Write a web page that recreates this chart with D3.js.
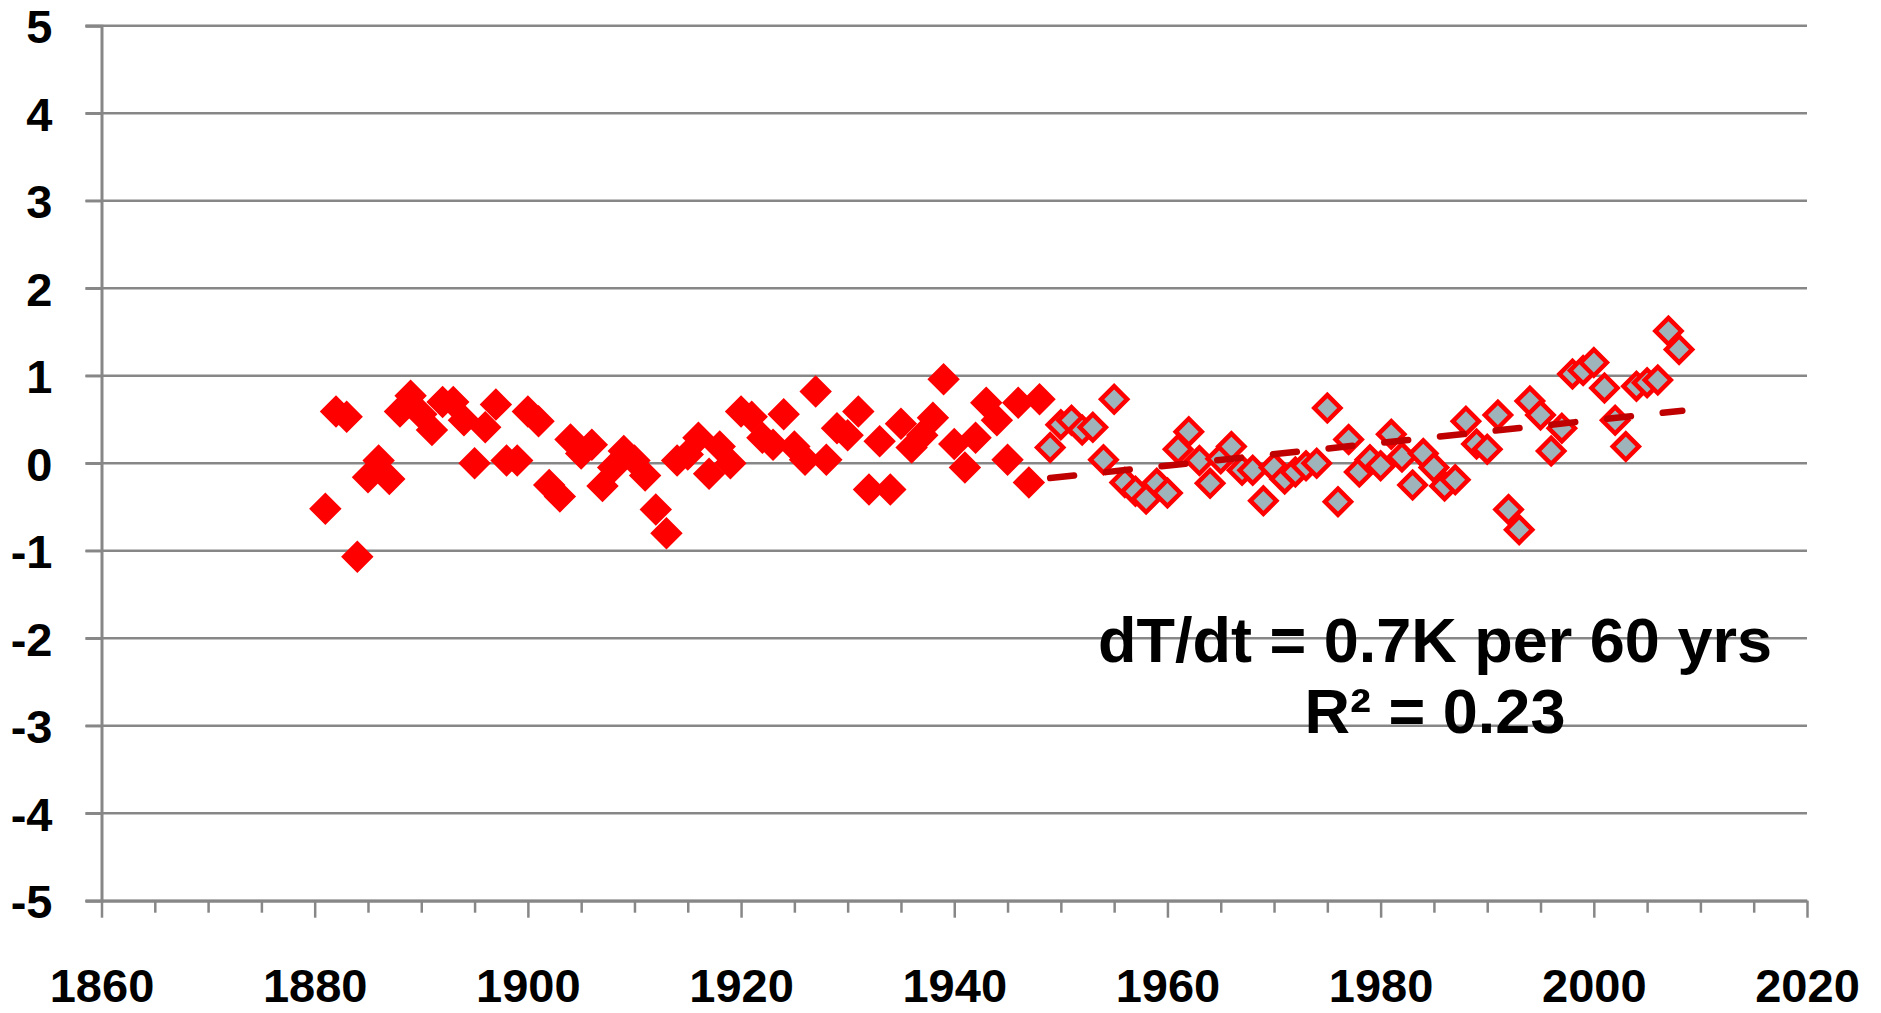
<!DOCTYPE html>
<html>
<head>
<meta charset="utf-8">
<script src="https://cdn.jsdelivr.net/npm/d3@7"></script>
<style>
	body { margin: 0; background: #fff; }
	text { font-family: "Liberation Sans", Arial, sans-serif; font-weight: bold; fill: #000; }
</style>
</head>
<body>
<div id="chart"></div>
<script>

// Early record (red diamonds), 1881-1948
let earlyYears = d3.range(1881, 1949);
let earlyValues = [
	-0.52, 0.59, 0.53, -1.07, -0.16, 0.03, -0.18, 0.59, 0.77, 0.56,
	0.38, 0.70, 0.70, 0.49, 0.00, 0.41, 0.67, 0.03, 0.03, 0.59,
	0.48, -0.25, -0.38, 0.27, 0.11, 0.21, -0.26, -0.05, 0.14, 0.03,
	-0.14, -0.53, -0.80, 0.03, 0.10, 0.29, -0.12, 0.19, 0.00, 0.59,
	0.53, 0.29, 0.21, 0.56, 0.19, 0.04, 0.82, 0.04, 0.40, 0.32,
	0.59, -0.30, 0.25, -0.30, 0.45, 0.18, 0.32, 0.52, 0.96, 0.22,
	-0.05, 0.29, 0.69, 0.49, 0.04, 0.69, -0.22, 0.73
];

// Later record (grey diamonds), 1949-2008
let lateYears = d3.range(1949, 2009);
let lateValues = [
	0.18, 0.44, 0.49, 0.38, 0.41, 0.04, 0.73, -0.22, -0.32, -0.41,
	-0.23, -0.34, 0.16, 0.36, 0.03, -0.23, 0.05, 0.19, -0.08, -0.08,
	-0.43, -0.05, -0.18, -0.10, -0.03, 0.00, 0.63, -0.44, 0.27, -0.10,
	0.04, -0.03, 0.33, 0.07, -0.25, 0.11, -0.05, -0.26, -0.19, 0.48,
	0.22, 0.16, 0.55, -0.53, -0.76, 0.71, 0.55, 0.14, 0.40, 1.02,
	1.06, 1.15, 0.86, 0.49, 0.19, 0.88, 0.92, 0.95, 1.51, 1.30
];

// linear trend over the later record
let trendYears = [1949, 2008.3];
let trendValues = [-0.17, 0.6];

let yTicks = [-5, -4, -3, -2, -1, 0, 1, 2, 3, 4, 5];
let xMajorTicks = [1860, 1880, 1900, 1920, 1940, 1960, 1980, 2000, 2020];
let xMinorTicks = d3.range(1865, 2020, 5).filter(d => d % 20 != 0);

let annotation = ["dT/dt = 0.7K per 60 yrs", "R\u00b2 = 0.23"];

let W = 1881, H = 1013;
let margin = {top: 25.7, right: 74, bottom: 112.3, left: 101.5};
let width = W - margin.left - margin.right;
let height = H - margin.top - margin.bottom;

let svg = d3.select("#chart").append("svg")
	.attr("width", W)
	.attr("height", H)
	.append("g")
	.attr("transform", "translate(" + margin.left + "," + margin.top + ")");

let x = d3.scaleLinear()
	.domain([1860, 2020])
	.range([0, width]);

let y = d3.scaleLinear()
	.domain([-5, 5])
	.range([height, 0]);

let gridColor = "#878787";

// horizontal gridlines
svg.append("g")
	.attr("class", "grid")
	.selectAll("line")
	.data(yTicks)
	.enter()
	.append("line")
	.attr("x1", -16)
	.attr("x2", width)
	.attr("y1", d => y(d))
	.attr("y2", d => y(d))
	.style("stroke", gridColor)
	.style("stroke-width", 2.5);

// y axis (plain hyphen for negatives, like the original)
let yAxis = d3.axisLeft(y)
	.tickValues(yTicks)
	.tickSize(16)
	.tickPadding(33)
	.tickFormat(d => String(d));

let gy = svg.append("g")
	.attr("class", "axis y-axis")
	.call(yAxis);
gy.select(".domain").style("stroke", gridColor).style("stroke-width", 3);
gy.selectAll(".tick line").style("stroke", gridColor).style("stroke-width", 2.5);
gy.selectAll(".tick text")
	.style("font-size", "47px")
	.attr("dy", "0.36em");

// x axis, minor ticks
let gxMinor = svg.append("g")
	.attr("class", "axis x-minor")
	.attr("transform", "translate(0," + height + ")")
	.call(d3.axisBottom(x).tickValues(xMinorTicks).tickSize(12).tickFormat(""));
gxMinor.select(".domain").remove();
gxMinor.selectAll(".tick line").style("stroke", gridColor).style("stroke-width", 2.5);

// x axis, major ticks and labels
let gx = svg.append("g")
	.attr("class", "axis x-axis")
	.attr("transform", "translate(0," + height + ")")
	.call(d3.axisBottom(x).tickValues(xMajorTicks).tickSize(17).tickSizeOuter(0).tickFormat(d => String(d)));
gx.select(".domain").style("stroke", gridColor).style("stroke-width", 3);
gx.selectAll(".tick line").style("stroke", gridColor).style("stroke-width", 2.5);
gx.selectAll(".tick text")
	.style("font-size", "47px")
	.attr("y", 101)
	.attr("dy", 0);

// diamond markers
let diamond = d3.symbol().type(d3.symbolSquare).size(340);

let early = earlyYears.map((d, i) => ({year: d, value: earlyValues[i]}));
let late = lateYears.map((d, i) => ({year: d, value: lateValues[i]}));

svg.append("g")
	.attr("class", "early")
	.selectAll("path")
	.data(early)
	.enter()
	.append("path")
	.attr("d", diamond)
	.attr("transform", d => "translate(" + x(d.year) + "," + y(d.value) + ")rotate(45)")
	.style("fill", "#ff0000")
	.style("stroke", "#ff0000")
	.style("stroke-width", 4.5);

svg.append("g")
	.attr("class", "late")
	.selectAll("path")
	.data(late)
	.enter()
	.append("path")
	.attr("d", diamond)
	.attr("transform", d => "translate(" + x(d.year) + "," + y(d.value) + ")rotate(45)")
	.style("fill", "#9fb4ba")
	.style("stroke", "#ff0000")
	.style("stroke-width", 4.5);

// trend line
let line = d3.line()
	.x(d => x(d[0]))
	.y(d => y(d[1]));

svg.append("path")
	.datum(trendYears.map((d, i) => [d, trendValues[i]]))
	.attr("class", "trend")
	.attr("d", line)
	.style("fill", "none")
	.style("stroke", "#c00000")
	.style("stroke-width", 6.5)
	.style("stroke-linecap", "round")
	.style("stroke-dasharray", "24,32");

// regression annotation
svg.append("g")
	.attr("class", "annotation")
	.selectAll("text")
	.data(annotation)
	.enter()
	.append("text")
	.attr("x", 1435 - margin.left)
	.attr("y", (d, i) => 662 - margin.top + i * 71)
	.attr("text-anchor", "middle")
	.style("font-size", "63px")
	.text(d => d);

</script>
</body>
</html>
